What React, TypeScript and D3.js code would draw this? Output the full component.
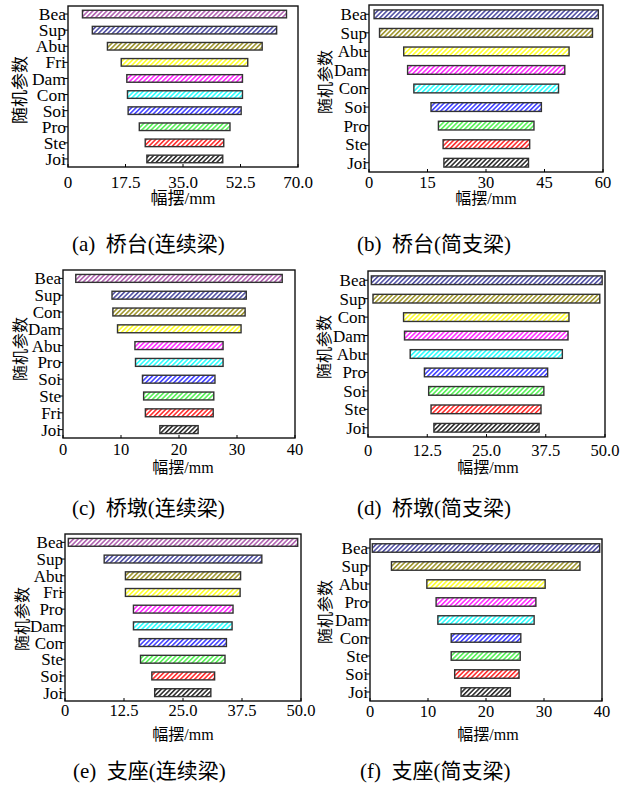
import React from "react";
import * as d3 from "d3";

// ---------- data ----------
const catsA = ["Bea", "Sup", "Abu", "Fri", "Dam", "Con", "Soi", "Pro", "Ste", "Joi"];
const loA = [4.4, 7.4, 12.0, 16.2, 17.9, 18.1, 18.3, 21.7, 23.5, 24.0];
const hiA = [66.5, 63.5, 59.1, 54.7, 53.1, 53.1, 52.7, 49.3, 47.4, 47.1];
const ticksA = [0, 17.5, 35, 52.5, 70];
const tickLabelsA = ["0", "17.5", "35.0", "52.5", "70.0"];

const catsB = ["Bea", "Sup", "Abu", "Dam", "Con", "Soi", "Pro", "Ste", "Joi"];
const loB = [1.3, 2.7, 8.9, 9.9, 11.5, 15.9, 17.8, 19.0, 19.2];
const hiB = [58.8, 57.3, 51.3, 50.2, 48.6, 44.2, 42.3, 41.2, 40.9];
const ticksB = [0, 15, 30, 45, 60];
const tickLabelsB = ["0", "15", "30", "45", "60"];

const catsC = ["Bea", "Sup", "Con", "Dam", "Abu", "Pro", "Soi", "Ste", "Fri", "Joi"];
const loC = [2.2, 8.45, 8.6, 9.4, 12.4, 12.5, 13.7, 13.9, 14.2, 16.7];
const hiC = [37.8, 31.6, 31.4, 30.7, 27.6, 27.6, 26.2, 26.0, 25.9, 23.3];
const ticksC = [0, 10, 20, 30, 40];
const tickLabelsC = ["0", "10", "20", "30", "40"];

const catsD = ["Bea", "Sup", "Con", "Dam", "Abu", "Pro", "Soi", "Ste", "Joi"];
const loD = [0.7, 1.05, 7.5, 7.7, 8.9, 11.9, 12.8, 13.3, 13.9];
const hiD = [49.4, 48.9, 42.4, 42.2, 41.0, 37.9, 37.1, 36.5, 36.1];
const ticksD = [0, 12.5, 25, 37.5, 50];
const tickLabelsD = ["0", "12.5", "25.0", "37.5", "50.0"];

const catsE = ["Bea", "Sup", "Abu", "Fri", "Pro", "Dam", "Con", "Ste", "Soi", "Joi"];
const loE = [0.7, 8.3, 12.8, 12.8, 14.5, 14.5, 15.7, 16.0, 18.4, 19.0];
const hiE = [49.3, 41.7, 37.2, 37.1, 35.6, 35.4, 34.2, 33.9, 31.7, 30.9];
const ticksE = [0, 12.5, 25, 37.5, 50];
const tickLabelsE = ["0", "12.5", "25.0", "37.5", "50.0"];

const catsF = ["Bea", "Sup", "Abu", "Pro", "Dam", "Con", "Ste", "Soi", "Joi"];
const loF = [0.4, 3.7, 9.8, 11.4, 11.7, 14.0, 14.0, 14.6, 15.7];
const hiF = [39.6, 36.2, 30.2, 28.6, 28.3, 26.0, 25.9, 25.7, 24.2];
const ticksF = [0, 10, 20, 30, 40];
const tickLabelsF = ["0", "10", "20", "30", "40"];

const captions = ["(a)  桥台(连续梁)", "(b)  桥台(简支梁)", "(c)  桥墩(连续梁)", "(d)  桥墩(简支梁)", "(e)  支座(连续梁)", "(f)  支座(简支梁)"];
const yTitle = "随机参数";
const xTitle = "幅摆/mm";

// colours by rank from the bottom bar upwards
const rankColors = ["#000000", "#ff0000", "#33ee33", "#1a1aff", "#00ffff", "#ff00ff", "#ffff00", "#8b8000", "#2a2a90", "#a040a0"];

// ---------- layout ----------
const panels = [
  { id: "a", cats: catsA, lo: loA, hi: hiA, ticks: ticksA, tl: tickLabelsA, max: 70, l: 68, r: 298, t: 6, b: 167, tickDy: 15, catFs: 17.5, numFs: 17, xFs: 17, yFs: 17, xt: [183, 198], yt: [20, 90], cap: [72, 251] },
  { id: "b", cats: catsB, lo: loB, hi: hiB, ticks: ticksB, tl: tickLabelsB, max: 60, l: 369, r: 603, t: 5, b: 172, tickDy: 10, catFs: 17, numFs: 16.5, xFs: 16, yFs: 16, xt: [486, 198], yt: [325, 82], cap: [357, 251] },
  { id: "c", cats: catsC, lo: loC, hi: hiC, ticks: ticksC, tl: tickLabelsC, max: 40, l: 63, r: 295, t: 270, b: 438, tickDy: 11, catFs: 17, numFs: 16.5, xFs: 16, yFs: 16, xt: [183, 467], yt: [20, 349], cap: [72, 515] },
  { id: "d", cats: catsD, lo: loD, hi: hiD, ticks: ticksD, tl: tickLabelsD, max: 50, l: 368, r: 605, t: 271, b: 437, tickDy: 13, catFs: 17, numFs: 16.5, xFs: 16, yFs: 16, xt: [488, 467], yt: [324, 347], cap: [357, 515] },
  { id: "e", cats: catsE, lo: loE, hi: hiE, ticks: ticksE, tl: tickLabelsE, max: 50, l: 65, r: 301, t: 534, b: 701, tickDy: 9, catFs: 17, numFs: 16.5, xFs: 16, yFs: 16, xt: [183, 734], yt: [22, 619], cap: [73, 778] },
  { id: "f", cats: catsF, lo: loF, hi: hiF, ticks: ticksF, tl: tickLabelsF, max: 40, l: 370, r: 602, t: 539, b: 701, tickDy: 10, catFs: 17, numFs: 16.5, xFs: 16, yFs: 16, xt: [488, 734], yt: [325, 612], cap: [360, 778] },
];

const FONT = "'Liberation Serif', 'Times New Roman', 'Noto Sans CJK SC', serif";

function Panel({ p }: { p: (typeof panels)[number] }) {
  const x = d3.scaleLinear().domain([0, p.max]).range([p.l, p.r]);
  const y = d3.scaleBand<string>().domain(p.cats).range([p.t, p.b]).paddingInner(0.53).paddingOuter(0.265);
  const n = p.cats.length;
  return (
    <g>
      {p.cats.map((c, i) => {
        const color = rankColors[n - 1 - i];
        const pid = `hatch-${p.id}-${i}`;
        return (
          <g key={c}>
            <defs>
              <pattern id={pid} patternUnits="userSpaceOnUse" width={3.3} height={3.3} patternTransform="rotate(45)">
                <rect width={3.3} height={3.3} fill="#fff" />
                <line x1={0.8} y1={0} x2={0.8} y2={3.3} stroke={color} strokeWidth={1.3} />
              </pattern>
            </defs>
            <rect
              x={x(p.lo[i])}
              y={y(c)!}
              width={x(p.hi[i]) - x(p.lo[i])}
              height={y.bandwidth()}
              fill={`url(#${pid})`}
              stroke="#333"
              strokeWidth={1.4}
            />
            <line x1={p.l - 4} x2={p.l} y1={y(c)! + y.bandwidth() / 2} y2={y(c)! + y.bandwidth() / 2} stroke="#000" strokeWidth={1} />
            <text x={p.l - 2} y={y(c)! + y.bandwidth() / 2} dy="0.35em" textAnchor="end" fontSize={p.catFs} fontFamily={FONT}>
              {c}
            </text>
          </g>
        );
      })}
      <rect x={p.l} y={p.t} width={p.r - p.l} height={p.b - p.t} fill="none" stroke="#111" strokeWidth={1.4} />
      {p.ticks.map((t, i) => (
        <g key={t}>
          <line x1={x(t)} x2={x(t)} y1={p.b} y2={p.b - 3} stroke="#000" strokeWidth={1} />
          <text x={x(t)} y={p.b + p.tickDy} dy="0.35em" textAnchor="middle" fontSize={p.numFs} fontFamily={FONT}>
            {p.tl[i]}
          </text>
        </g>
      ))}
      <text x={p.xt[0]} y={p.xt[1]} dy="0.35em" textAnchor="middle" fontSize={p.xFs} fontFamily={FONT}>
        {xTitle}
      </text>
      <text
        transform={`translate(${p.yt[0]},${p.yt[1]}) rotate(-90)`}
        dy="0.35em"
        textAnchor="middle"
        fontSize={p.yFs}
        fontFamily={FONT}
      >
        {yTitle}
      </text>
    </g>
  );
}

export default function App() {
  return (
    <svg width={624} height={785} style={{ position: "absolute", left: 0, top: 0, background: "#fff" }}>
      <rect width={624} height={785} fill="#fff" />
      {panels.map((p) => (
        <Panel key={p.id} p={p} />
      ))}
      {panels.map((p, i) => (
        <text key={"cap" + i} x={p.cap[0]} y={p.cap[1]} fontSize={21} fontFamily={FONT} style={{ whiteSpace: "pre" }}>
          {captions[i]}
        </text>
      ))}
    </svg>
  );
}
